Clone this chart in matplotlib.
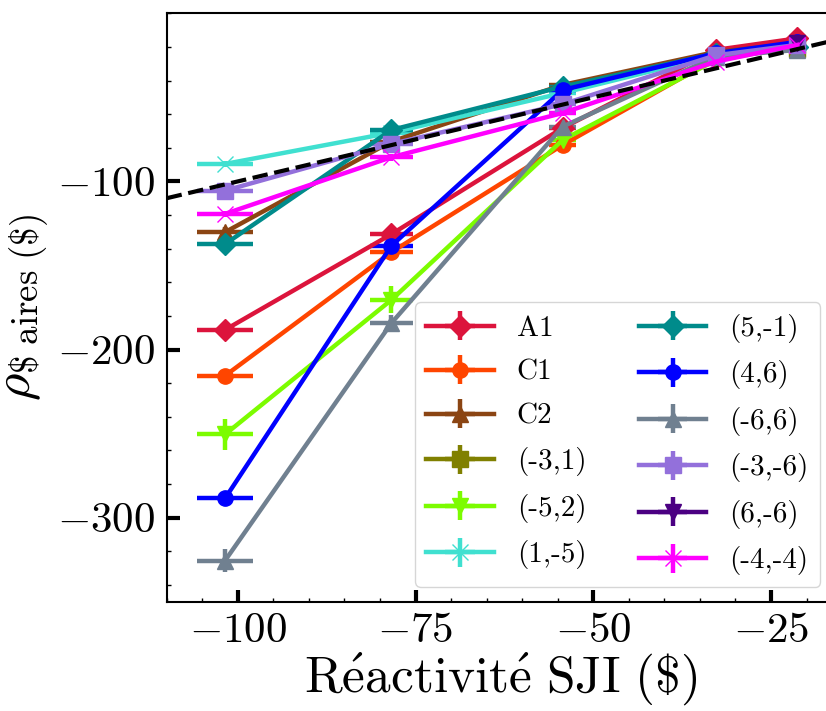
import numpy as np
import matplotlib as mpl
mpl.use("Agg")
import matplotlib.pyplot as plt

mpl.rcParams.update({
    "font.family": "serif",
    "font.serif": ["cmr10", "DejaVu Serif"],
    "mathtext.fontset": "cm",
    "axes.formatter.use_mathtext": True,
    "axes.unicode_minus": True,
    "axes.linewidth": 1.5,
    "xtick.direction": "in", "ytick.direction": "in",
    "xtick.major.size": 9, "ytick.major.size": 9,
    "xtick.major.width": 3, "ytick.major.width": 3,
    "xtick.minor.size": 3, "ytick.minor.size": 3,
    "xtick.minor.width": 1, "ytick.minor.width": 1,
})

# SJI reactivity ($) and its uncertainty, shared by all configurations
X = [-101.8, -78.4, -54.3, -32.8, -21.3]
XERR = [3.9, 3.0, 1.9, 1.1, 0.9]
nan = np.nan

LABELS = ["A1", "C1", "C2", "(-3,1)", "(-5,2)", "(1,-5)",
          "(5,-1)", "(4,6)", "(-6,6)", "(-3,-6)", "(6,-6)", "(-4,-4)"]
Y_A1 = [-188.3, -131.4, -68.2, -21.8, -14.9]
Y_C1 = [-215.6, -142.1, -78.3, -27.0, -17.5]
Y_C2 = [-130.2, -76.3, -42.6, -23.0, -18.0]
Y_M3P1 = [nan, nan, nan, nan, -21.5]
Y_M5P2 = [-250.5, -170.5, -75.3, -28.0, -19.5]
Y_P1M5 = [-89.6, -71.0, -47.4, -25.0, -19.0]
Y_P5M1 = [-137.3, -69.4, -43.6, -24.0, -19.8]
Y_P4P6 = [-288.6, -138.3, -45.6, -23.8, -17.0]
Y_M6P6 = [-325.6, -184.3, -67.4, -25.8, -21.8]
Y_M3M6 = [-105.5, -77.7, -54.1, -25.0, -18.8]
Y_P6M6 = [nan, nan, nan, nan, -17.9]
Y_M4M4 = [-119.3, -85.6, -59.3, -28.8, -18.8]
YS = [Y_A1, Y_C1, Y_C2, Y_M3P1, Y_M5P2, Y_P1M5, Y_P5M1, Y_P4P6, Y_M6P6, Y_M3M6, Y_P6M6, Y_M4M4]

YERR_A1 = [2, 2, 2, 1, 1]
YERR_C1 = [2, 2, 2, 1, 1]
YERR_C2 = [3, 2, 2, 1, 1]
YERR_M3P1 = [2, 2, 2, 1, 1]
YERR_M5P2 = [9, 8, 3, 1, 1]
YERR_P1M5 = [2, 2, 2, 1, 1]
YERR_P5M1 = [2, 2, 2, 1, 1]
YERR_P4P6 = [3, 3, 2, 1, 1]
YERR_M6P6 = [7, 5, 3, 1, 1]
YERR_M3M6 = [2, 2, 2, 1, 1]
YERR_P6M6 = [2, 2, 2, 1, 1]
YERR_M4M4 = [2, 2, 2, 1, 1]
YERRS = [YERR_A1, YERR_C1, YERR_C2, YERR_M3P1, YERR_M5P2, YERR_P1M5,
         YERR_P5M1, YERR_P4P6, YERR_M6P6, YERR_M3M6, YERR_P6M6, YERR_M4M4]

COLORS = ["crimson", "orangered", "saddlebrown", "olive", "lawngreen", "turquoise",
          "darkcyan", "blue", "slategray", "mediumpurple", "indigo", "magenta"]
MARKERS = ["D", "o", "^", "s", "v", "x", "D", "o", "^", "s", "v", "x"]

fig = plt.figure(figsize=(8.26, 7.11), dpi=100)
ax = fig.add_axes([0.2018, 0.1537, 0.8091, 0.8276])

for lab, y, ye, c, m in zip(LABELS, YS, YERRS, COLORS, MARKERS):
    ax.errorbar(X, y, xerr=XERR, yerr=ye, color=c, marker=m, ms=11, lw=3.2,
                elinewidth=3.2, capsize=0, label=lab)

ax.set_xlim(-110, -16)
ax.set_ylim(-350, 0)
ax.plot([-110, -16], [-110, -16], "--", color="black", lw=3, zorder=5)

ax.set_xticks([-100, -75, -50, -25])
ax.set_yticks([-300, -200, -100])
ax.xaxis.set_minor_locator(mpl.ticker.MultipleLocator(5))
ax.yaxis.set_minor_locator(mpl.ticker.MultipleLocator(20))
ax.tick_params(labelsize=31, pad=8)

ax.set_xlabel(r"$\mathrm{R\'{e}activit\'{e}\ SJI\ (\$)}$", fontsize=37, labelpad=0)
ax.set_ylabel(r"$\rho_{\$\ \mathrm{aires}\ (\$)}$", fontsize=38)

ax.legend(loc="lower right", ncol=2, fontsize=21, handlelength=2.3,
          handletextpad=0.8, columnspacing=1.8, labelspacing=0.6)

fig.savefig("out.png", dpi=100)
